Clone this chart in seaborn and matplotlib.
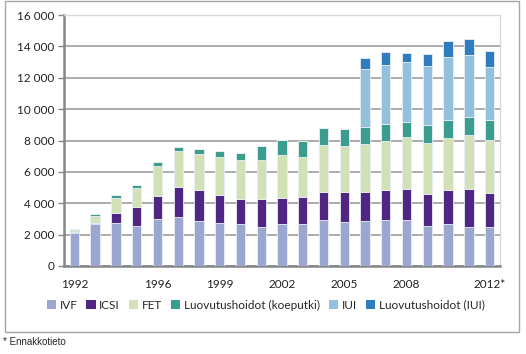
import numpy as np
import pandas as pd
import seaborn as sns
import matplotlib.pyplot as plt
from matplotlib.patches import Patch, Rectangle
from matplotlib.ticker import FuncFormatter

# --- data ---
vuodet = list(range(1992, 2013))
x_labels = ['1992', '', '', '', '1996', '', '', '1999', '', '', '2002', '', '',
            '2005', '', '', '2008', '', '', '', '2012*']

ivf = [2100, 2650, 2750, 2540, 2970, 3140, 2850, 2715, 2650, 2460, 2650, 2650,
       2920, 2800, 2870, 2910, 2910, 2580, 2660, 2510, 2510]
icsi = [50, 80, 660, 1200, 1470, 1920, 2010, 1810, 1620, 1810, 1680, 1750,
        1810, 1940, 1870, 1960, 2020, 1980, 2210, 2430, 2170]
fet = [150, 430, 920, 1240, 1940, 2240, 2280, 2400, 2480, 2480, 2740, 2550,
       2990, 2880, 3065, 3110, 3300, 3280, 3300, 3400, 3340]
luov_koeputki = [80, 150, 190, 210, 260, 260, 330, 420, 440, 900, 970, 1030,
                 1095, 1100, 1065, 1085, 960, 1170, 1150, 1170, 1300]
iui = [0] * 14 + [3680, 3770, 3830, 3745, 4020, 3960, 3360]
luov_iui = [0] * 14 + [720, 830, 575, 790, 980, 1020, 1040]

sarjat = ['IVF', 'ICSI', 'FET', 'Luovutushoidot (koeputki)', 'IUI', 'Luovutushoidot (IUI)']
arvot = [ivf, icsi, fet, luov_koeputki, iui, luov_iui]
varit = ['#9ba7d0', '#4f2683', '#d3e1b8', '#3a9d8e', '#93c0dc', '#2f7cc0']

df = pd.DataFrame(dict(zip(sarjat, arvot)), index=vuodet)

sns.set_style('white')
plt.rcParams['font.family'] = ['Lato', 'DejaVu Sans']

fig = plt.figure(figsize=(5.26, 3.54), dpi=100)
ax = fig.add_axes([64 / 526, 1 - 266 / 354, 436 / 526, 251 / 354])

# pinotut pylväät
pohja = np.zeros(len(vuodet))
for nimi, vari in zip(sarjat, varit):
    sns.barplot(x=[str(v) for v in vuodet], y=df[nimi].values, bottom=pohja,
                color=vari, width=0.45, ax=ax, saturation=1,
                edgecolor='#e8eef4', linewidth=0.6, zorder=3)
    pohja += df[nimi].values

ax.set_ylim(0, 16000)
ax.set_xlim(-0.5, len(vuodet) - 0.5)
ax.set_yticks(range(0, 16001, 2000))
ax.yaxis.set_major_formatter(FuncFormatter(lambda v, p: f'{int(v):,}'.replace(',', ' ')))
ax.grid(axis='y', color='#a6a6a6', linewidth=1.3, zorder=0)
ax.set_axisbelow(True)

ax.set_xticks(range(len(vuodet)))
ax.set_xticklabels(x_labels)
ax.set_xticks(np.arange(-0.5, len(vuodet)), minor=True)
ax.tick_params(axis='x', which='major', length=0, pad=9, labelsize=8.5, colors='#222222')
ax.tick_params(axis='x', which='minor', length=4, width=1, color='#868686', direction='out')
ax.tick_params(axis='y', length=4, width=1, color='#868686', labelsize=8.5, pad=3,
               colors='#222222', left=True)
ax.tick_params(axis='y', colors='#868686', labelcolor='#222222')
ax.set_xlabel('')
ax.set_ylabel('')

for s in ['left', 'bottom']:
    ax.spines[s].set_color('#868686')
    ax.spines[s].set_linewidth(1.8)
for s in ['top', 'right']:
    ax.spines[s].set_color('#d9d9d9')
    ax.spines[s].set_linewidth(1)

kahvat = [Patch(facecolor=c, edgecolor='none') for c in varit]
fig.legend(kahvat, sarjat, loc='center', bbox_to_anchor=(0.505, 0.138), ncol=6,
           frameon=False, fontsize=8.5, handlelength=0.8, handleheight=0.8,
           handletextpad=0.3, columnspacing=0.75)

# ulkokehys
fig.patches.append(Rectangle((5 / 526, 22 / 354), 514 / 526, 331 / 354,
                             transform=fig.transFigure, fill=False,
                             edgecolor='#a6a6a6', linewidth=1))

fig.text(3 / 526, 1 - 342 / 354, '* Ennakkotieto', fontsize=7,
         family=['Liberation Sans', 'DejaVu Sans'], va='center', ha='left')

fig.savefig('out.png', dpi=100)
